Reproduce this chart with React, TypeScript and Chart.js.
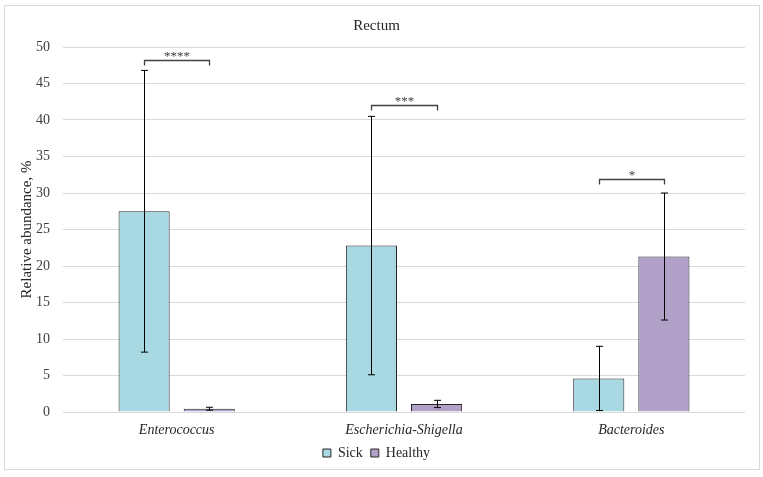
import React, { useEffect, useRef } from "react";
import { Chart, registerables } from "chart.js";

Chart.register(...registerables);

const categories = ["Enterococcus", "Escherichia-Shigella", "Bacteroides"];
const seriesNames = ["Sick", "Healthy"];
const sickValues = [27.5, 22.8, 4.6];
const sickErrors = [19.3, 17.7, 4.4];
const healthyValues = [0.45, 1.1, 21.3];
const healthyErrors = [0.2, 0.5, 8.7];
const bracketLevels = [48.2, 42.0, 31.9];
const bracketLabels = ["****", "***", "*"];
const yTicks = [0, 5, 10, 15, 20, 25, 30, 35, 40, 45, 50];

const FONT = "'Liberation Serif', 'Times New Roman', serif";

const frame = {
  id: "frame",
  beforeDraw(chart: any) {
    const ctx = chart.ctx;
    ctx.save();
    ctx.fillStyle = "#ffffff";
    ctx.fillRect(0, 0, chart.width, chart.height);
    ctx.strokeStyle = "#d9d9d9";
    ctx.lineWidth = 1;
    ctx.strokeRect(4.5, 5.5, 755, 464);
    ctx.restore();
  },
};

const errorsAndBrackets = {
  id: "errorsAndBrackets",
  afterDatasetsDraw(chart: any) {
    const ctx = chart.ctx;
    const y = chart.scales.y;
    const errs = [sickErrors, healthyErrors];
    ctx.save();
    ctx.strokeStyle = "#000000";
    ctx.lineWidth = 1;
    for (let d = 0; d < 2; d++) {
      const meta = chart.getDatasetMeta(d);
      const vals = chart.data.datasets[d].data as number[];
      meta.data.forEach((bar: any, i: number) => {
        const x = Math.round(bar.x) + 0.5;
        const top = y.getPixelForValue(vals[i] + errs[d][i]);
        const bot = y.getPixelForValue(Math.max(0, vals[i] - errs[d][i]));
        ctx.beginPath();
        ctx.moveTo(x, top);
        ctx.lineTo(x, bot);
        ctx.moveTo(x - 3.5, top);
        ctx.lineTo(x + 3.5, top);
        ctx.moveTo(x - 3.5, bot);
        ctx.lineTo(x + 3.5, bot);
        ctx.stroke();
      });
    }
    // significance brackets
    const m0 = chart.getDatasetMeta(0);
    const m1 = chart.getDatasetMeta(1);
    ctx.strokeStyle = "#404040";
    ctx.lineWidth = 1.3;
    ctx.fillStyle = "#404040";
    ctx.font = `13px ${FONT}`;
    ctx.textAlign = "center";
    ctx.textBaseline = "alphabetic";
    bracketLevels.forEach((lvl, i) => {
      const x1 = Math.round(m0.data[i].x) + 0.5;
      const x2 = Math.round(m1.data[i].x) + 0.5;
      const yy = Math.round(y.getPixelForValue(lvl)) + 0.5;
      const drop = y.getPixelForValue(lvl - 0.7) - y.getPixelForValue(lvl);
      ctx.beginPath();
      ctx.moveTo(x1, yy + drop);
      ctx.lineTo(x1, yy);
      ctx.lineTo(x2, yy);
      ctx.lineTo(x2, yy + drop);
      ctx.stroke();
      ctx.fillText(bracketLabels[i], (x1 + x2) / 2, yy - 1);
    });
    ctx.restore();
  },
};

export default function App() {
  const ref = useRef<HTMLCanvasElement>(null);
  useEffect(() => {
    if (!ref.current) return;
    const chart = new Chart(ref.current, {
      type: "bar",
      data: {
        labels: categories,
        datasets: [
          {
            label: seriesNames[0],
            data: sickValues,
            backgroundColor: "#a8d8e2",
            borderColor: "#262626",
            borderWidth: 1,
            categoryPercentage: 0.573,
            barPercentage: 0.785,
          },
          {
            label: seriesNames[1],
            data: healthyValues,
            backgroundColor: "#b1a1c9",
            borderColor: "#262626",
            borderWidth: 1,
            categoryPercentage: 0.573,
            barPercentage: 0.785,
          },
        ],
      },
      options: {
        animation: false,
        responsive: false,
        maintainAspectRatio: false,
        layout: { padding: { top: 5, left: 8, right: 18, bottom: 7 } },
        plugins: {
          title: {
            display: true,
            text: "Rectum",
            color: "#262626",
            font: { family: FONT, size: 15, weight: "normal" },
            padding: { top: 12, bottom: 12 },
          },
          legend: {
            display: true,
            position: "bottom",
            labels: {
              color: "#262626",
              font: { family: FONT, size: 14 },
              boxWidth: 8,
              boxHeight: 8,
              padding: 8,
            },
          },
          tooltip: { enabled: false },
        },
        scales: {
          x: {
            grid: { display: false, drawTicks: false },
            border: { display: false },
            ticks: {
              color: "#262626",
              font: { family: FONT, size: 14, style: "italic" },
              padding: 10,
            },
            afterFit(s: any) {
              s.height = 26;
            },
          },
          y: {
            min: 0,
            max: 50,
            afterBuildTicks(s: any) {
              s.ticks = yTicks.map((v) => ({ value: v }));
            },
            grid: { color: "#d9d9d9", lineWidth: 1, drawTicks: false },
            border: { display: false },
            ticks: {
              color: "#404040",
              font: { family: FONT, size: 14 },
              padding: 13,
            },
            title: {
              display: true,
              text: "Relative abundance, %",
              color: "#262626",
              font: { family: FONT, size: 15 },
              padding: { top: 10, bottom: 0 },
            },
            afterFit(s: any) {
              s.width = 55;
            },
          },
        },
      },
      plugins: [frame, errorsAndBrackets],
    });
    return () => chart.destroy();
  }, []);
  return (
    <div style={{ position: "fixed", left: 0, top: 0, width: 763, height: 477, background: "#fff" }}>
      <canvas ref={ref} width={763} height={477} style={{ display: "block" }} />
    </div>
  );
}
